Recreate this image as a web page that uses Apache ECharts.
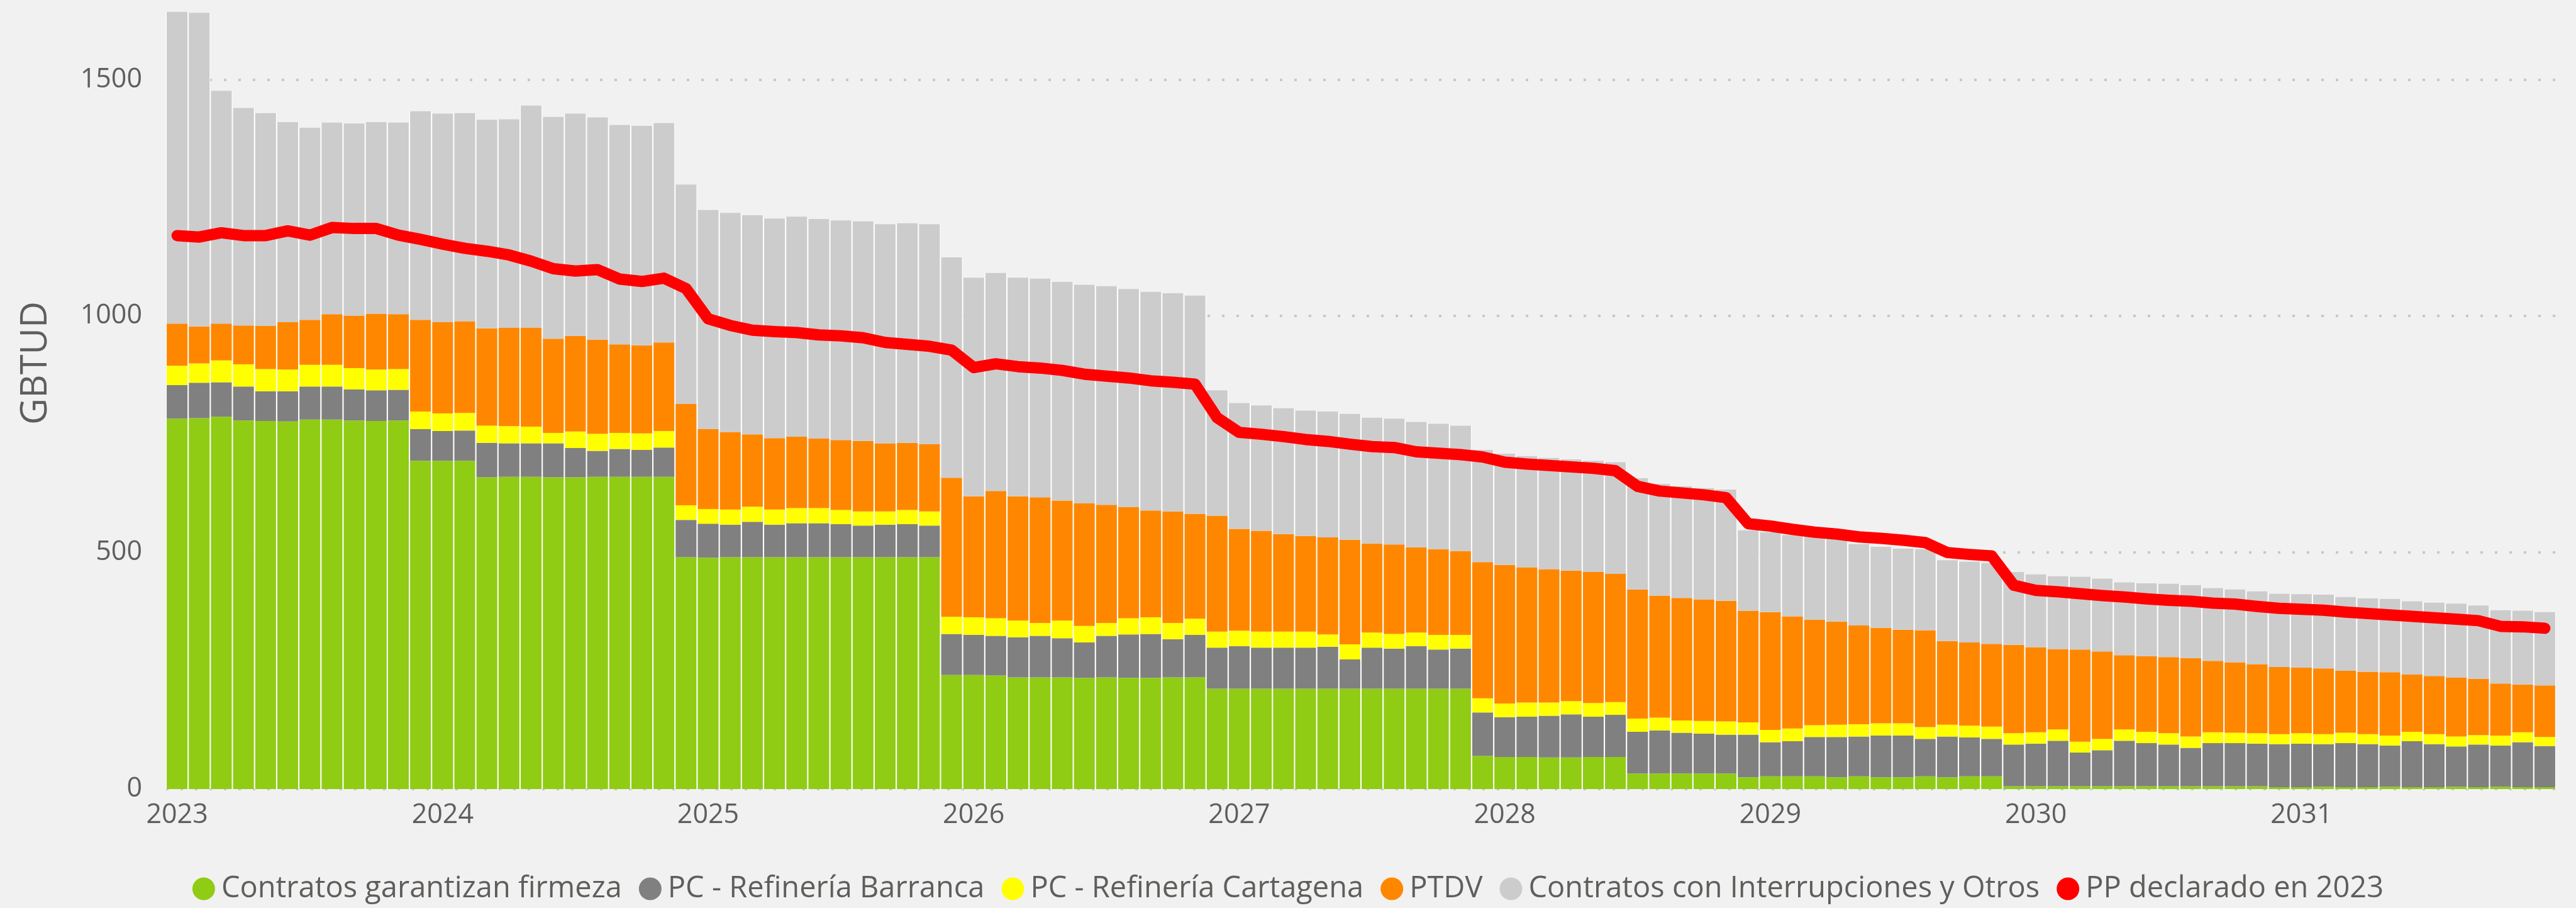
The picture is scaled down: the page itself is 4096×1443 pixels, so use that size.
<!DOCTYPE html>
<html>
<head>
<meta charset="utf-8">
<script src="https://cdn.jsdelivr.net/npm/echarts@6/dist/echarts.min.js"></script>
<style>
  html, body { margin: 0; padding: 0; background: #f1f1f1; }
  #chart { width: 4096px; height: 1443px; }
</style>
</head>
<body>
<div id="chart"></div>
<script>
// meses 2023-01 .. 2031-12
var months = []
for (var y = 2023; y <= 2031; y++) {
  for (var m = 1; m <= 12; m++) {
    months.push(y + '-' + (m < 10 ? '0' + m : m))
  }
}

var green = [783, 784, 787, 779, 778, 777, 781, 781, 779, 778, 779,
  694, 694, 694,
  659, 660, 660, 659, 659, 660, 660, 660, 660,
  490, 489, 490, 490, 490, 490, 490, 490, 490, 490, 490, 490,
  241, 241, 240, 236, 236, 236, 235, 236, 235, 235, 236, 236,
  212, 212, 212, 212, 212, 212, 212, 212, 212, 212, 212, 212,
  70, 68, 68, 67, 67, 68, 68,
  33, 33, 33, 33, 33,
  25, 27, 27, 27, 25, 27, 25, 25, 27, 25, 27, 27,
  6, 6, 6, 6, 6, 6, 6, 6, 6, 6, 6, 6,
  4, 4, 5, 4, 4, 5, 4, 4, 5, 4, 5, 4, 4]

var barranca = [71, 75, 73, 72, 63, 64, 70, 70, 66, 65, 65,
  67, 63, 64,
  73, 71, 71, 72, 62, 55, 59, 57, 62,
  79, 72, 69, 75, 69, 72, 72, 70, 67, 69, 70, 67,
  87, 85, 84, 85, 88, 83, 75, 88, 92, 93, 81, 90,
  87, 90, 87, 87, 87, 89, 62, 87, 85, 90, 83, 85,
  92, 84, 85, 88, 91, 85, 89,
  88, 91, 86, 84, 82,
  90, 72, 74, 83, 85, 84, 88, 88, 79, 86, 82, 79,
  88, 90, 96, 71, 76, 96, 91, 88, 81, 91, 91, 90,
  91, 92, 90, 93, 91, 87, 97, 91, 85, 90, 87, 95, 87]

var cartagena = [41, 41, 46, 47, 47, 46, 46, 46, 45, 44, 44,
  37, 37, 37,
  36, 36, 35, 22, 35, 36, 34, 35, 35,
  31, 31, 32, 32, 32, 32, 32, 30, 30, 28, 30, 30,
  36, 37, 37, 35, 27, 37, 35, 27, 34, 35, 34, 34,
  34, 33, 34, 34, 34, 26, 32, 32, 31, 29, 31, 29,
  30, 29, 30, 28, 28, 29, 27,
  28, 27, 26, 27, 28,
  26, 26, 27, 25, 26, 26, 26, 26, 25, 25, 25, 26,
  24, 24, 24, 23, 24, 24, 24, 24, 24, 23, 22, 22,
  21, 22, 21, 22, 21, 21, 20, 21, 21, 20, 21, 21, 19]

var ptdv = [89, 78, 78, 82, 91, 100, 95, 107, 111, 118, 116,
  194, 193, 194,
  206, 208, 209, 199, 202, 199, 187, 186, 187,
  214, 169, 164, 153, 151, 151, 147, 148, 149, 144, 142, 142,
  294, 256, 269, 263, 266, 254, 259, 250, 235, 226, 236, 222,
  245, 215, 213, 206, 202, 205, 221, 188, 189, 180, 181, 177,
  288, 293, 286, 282, 276, 277, 271,
  273, 258, 259, 257, 255,
  236, 249, 237, 223, 218, 209, 202, 198, 205, 177, 176, 175,
  187, 180, 170, 195, 185, 157, 160, 161, 166, 151, 149, 146,
  142, 139, 139, 131, 132, 134, 121, 123, 125, 119, 110, 101, 109]

var interrupciones = [659, 663, 492, 460, 450, 423, 406, 405, 406, 405, 405,
  441, 441, 440,
  441, 441, 470, 469, 470, 470, 464, 464, 464,
  464, 463, 463, 463, 464, 465, 464, 464, 464, 463, 464, 465,
  466, 462, 461, 462, 462, 462, 462, 462, 461, 462, 461, 461,
  265, 266, 265, 266, 265, 266, 266, 266, 266, 265, 265, 265,
  237, 235, 235, 235, 235, 235, 236,
  235, 236, 236, 235, 235,
  170, 169, 172, 175, 175, 172, 171, 171, 171, 171, 171, 171,
  154, 154, 154, 154, 154, 154, 154, 155, 154, 154, 154, 154,
  155, 155, 156, 156, 155, 155, 155, 155, 156, 155, 155, 156, 155]

var ppDeclarado = [1170, 1167, 1176, 1170, 1170, 1180, 1171, 1187, 1185, 1185, 1171,
  1162, 1152, 1143,
  1137, 1129, 1116, 1100, 1095, 1098, 1078, 1073, 1080,
  1058, 994, 980, 970, 967, 965, 960, 958, 954, 944, 940, 936,
  928, 891, 899, 893, 890, 885, 877, 873, 869, 863, 860, 856,
  785, 754, 750, 745, 739, 735, 729, 724, 722, 713, 710, 707,
  702, 691, 687, 684, 681, 678, 673,
  640, 630, 626, 622, 616,
  561, 556, 549, 543, 539, 533, 530, 526, 521, 500, 496, 493,
  431, 420, 417, 413, 409, 406, 402, 399, 397, 393, 391, 386,
  382, 380, 378, 374, 371, 368, 365, 362, 359, 356, 344, 343, 340]

var yTicks = [0, 500, 1000, 1500]

var textColor = '#605e5c'
var fontFamily = '"Open Sans", "Noto Sans", sans-serif'

var chart = echarts.init(document.getElementById('chart'))

// white strip behind each column (gaps between bars look white)
var totals = []
for (var i = 0; i < months.length; i++) {
  totals.push(green[i] + barranca[i] + cartagena[i] + ptdv[i] + interrupciones[i])
}

function barSeries(name, data, color) {
  return {
    name: name,
    type: 'bar',
    stack: 'total',
    barCategoryGap: '6%',
    itemStyle: { color: color },
    data: data,
    z: 2
  }
}

chart.setOption({
  backgroundColor: '#f1f1f1',
  animation: false,
  textStyle: { fontFamily: fontFamily },
  grid: { left: 264, right: 32, top: 0, bottom: 189 },
  legend: {
    data: ['Contratos garantizan firmeza', 'PC - Refinería Barranca', 'PC - Refinería Cartagena',
      'PTDV', 'Contratos con Interrupciones y Otros', 'PP declarado en 2023'],
    left: 'center',
    top: 1384,
    icon: 'circle',
    itemWidth: 36,
    itemHeight: 36,
    itemGap: 27,
    textStyle: { fontSize: 47, color: textColor, fontFamily: fontFamily, padding: [0, 0, 0, 5] }
  },
  xAxis: [{
    type: 'category',
    data: months,
    axisLine: { show: false },
    axisTick: { show: false },
    axisLabel: {
      interval: 0,
      margin: 20,
      fontSize: 43,
      color: textColor,
      formatter: function (v) {
        return v.slice(5) === '01' ? v.slice(0, 4) : ''
      }
    }
  }, {
    type: 'category',
    data: months,
    show: false
  }],
  yAxis: {
    type: 'value',
    min: 0,
    max: 1668,
    interval: 500,
    axisLine: { show: false },
    axisTick: { show: false },
    axisLabel: {
      margin: 38,
      fontSize: 43,
      color: textColor,
      showMaxLabel: false,
      formatter: function (v) { return yTicks.indexOf(v) >= 0 ? String(v) : '' }
    },
    splitLine: {
      show: true,
      showMaxLine: false,
      lineStyle: { color: '#c8c8c8', width: 4, type: [4, 19] }
    }
  },
  graphic: [{
    type: 'text',
    x: 57,
    y: 577,
    rotation: Math.PI / 2,
    style: {
      text: 'GBTUD',
      fontSize: 58,
      fontFamily: fontFamily,
      fill: textColor,
      align: 'center',
      verticalAlign: 'middle'
    }
  }],
  series: [{
    name: 'bg',
    type: 'bar',
    xAxisIndex: 1,
    barWidth: '100%',
    silent: true,
    itemStyle: { color: '#ffffff' },
    data: totals,
    z: 1
  },
  barSeries('Contratos garantizan firmeza', green, '#90cc14'),
  barSeries('PC - Refinería Barranca', barranca, '#808080'),
  barSeries('PC - Refinería Cartagena', cartagena, '#ffff00'),
  barSeries('PTDV', ptdv, '#ff8700'),
  barSeries('Contratos con Interrupciones y Otros', interrupciones, '#cccccc'),
  {
    name: 'PP declarado en 2023',
    type: 'line',
    data: ppDeclarado,
    showSymbol: false,
    symbol: 'circle',
    itemStyle: { color: '#ff0000' },
    lineStyle: { color: '#ff0000', width: 18, cap: 'round', join: 'round' },
    z: 5
  }]
})
</script>
</body>
</html>
